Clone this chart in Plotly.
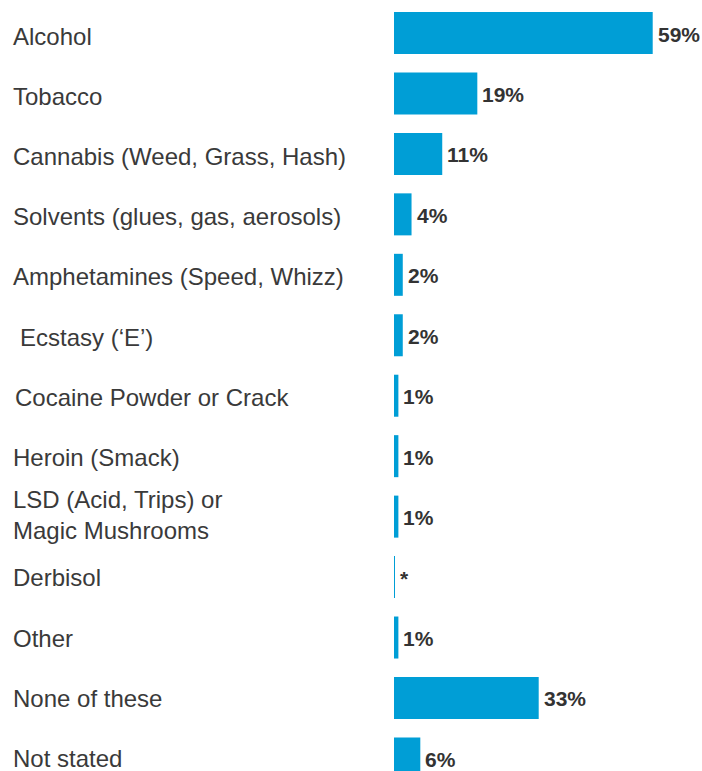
import plotly.graph_objects as go

# Substances ever tried (share of respondents, %)
categories = [
    "Alcohol",
    "Tobacco",
    "Cannabis (Weed, Grass, Hash)",
    "Solvents (glues, gas, aerosols)",
    "Amphetamines (Speed, Whizz)",
    "Ecstasy (‘E’)",
    "Cocaine Powder or Crack",
    "Heroin (Smack)",
    "LSD (Acid, Trips) or<br>Magic Mushrooms",
    "Derbisol",
    "Other",
    "None of these",
    "Not stated",
]
values = [59, 19, 11, 4, 2, 2, 1, 1, 1, 0.2, 1, 33, 6]
value_labels = ["59%", "19%", "11%", "4%", "2%", "2%", "1%", "1%", "1%", "*", "1%", "33%", "6%"]

BAR_COLOR = "#009ED6"
TEXT_COLOR = "#3a3a3a"
FONT = "Liberation Sans, Arial, sans-serif"

# slight indents used for a couple of the row labels
label_indent = {"Ecstasy (‘E’)": 7, "Cocaine Powder or Crack": 2}

W, H = 702, 771
LEFT = 394
rows = list(range(len(categories)))

fig = go.Figure(
    go.Bar(
        x=values,
        y=rows,
        orientation="h",
        width=0.695,
        marker=dict(color=BAR_COLOR, line=dict(width=0)),
        cliponaxis=False,
        hoverinfo="skip",
    )
)

plot_w = W - LEFT
for i, cat in enumerate(categories):
    # row labels sit a touch low at the top, drifting to centred at the bottom
    dy = -3 + 0.25 * i
    if "<br>" in cat:
        dy += 3
    fig.add_annotation(
        x=(11 - LEFT) / plot_w,
        xref="paper",
        y=i,
        yref="y",
        text=cat,
        showarrow=False,
        xanchor="left",
        yanchor="middle",
        align="left",
        xshift=label_indent.get(cat, 0),
        yshift=dy,
        font=dict(family=FONT, size=24, color=TEXT_COLOR),
    )
    # value label just past the end of the bar
    fig.add_annotation(
        x=values[i],
        xref="x",
        y=i,
        yref="y",
        text=f"<b>{value_labels[i]}</b>",
        showarrow=False,
        xanchor="left",
        yanchor="middle",
        xshift=3,
        yshift=-1,
        font=dict(family=FONT, size=21, color="#333333"),
    )

fig.update_layout(
    width=W,
    height=H,
    margin=dict(l=LEFT, r=0, t=0, b=0),
    paper_bgcolor="white",
    plot_bgcolor="white",
    showlegend=False,
    xaxis=dict(range=[0, plot_w / 4.385], visible=False, fixedrange=True),
    yaxis=dict(range=[12.208, -0.546], visible=False, fixedrange=True),
)

fig.write_html("out.html")
